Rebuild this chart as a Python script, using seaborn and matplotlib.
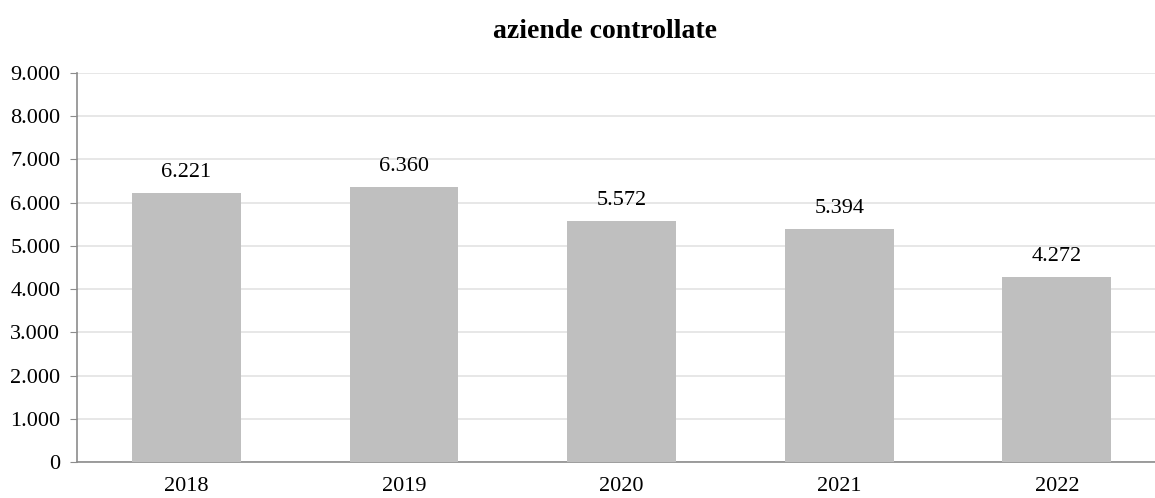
import matplotlib
matplotlib.use("Agg")
import matplotlib.pyplot as plt
import matplotlib.ticker as mticker
import seaborn as sns
import pandas as pd

# dati
anni = ["2018", "2019", "2020", "2021", "2022"]
aziende = [6221, 6360, 5572, 5394, 4272]

df = pd.DataFrame({"anno": anni, "aziende": aziende})

sns.set_style("white")
plt.rcParams["font.family"] = ["Liberation Serif", "DejaVu Serif"]
plt.rcParams["text.color"] = "black"
plt.rcParams["xtick.color"] = "black"
plt.rcParams["ytick.color"] = "black"

fig = plt.figure(figsize=(11.55, 4.98), dpi=100)
ax = fig.add_axes([77 / 1155, 36 / 498, 1078 / 1155, 389 / 498])

sns.barplot(data=df, x="anno", y="aziende", color="#BFBFBF", width=0.5,
            saturation=1, linewidth=0, ax=ax, zorder=3)

ax.set_ylim(0, 9000)
ax.set_xlim(-0.503, 4.451)
ax.yaxis.set_major_locator(mticker.MultipleLocator(1000))
ax.yaxis.set_major_formatter(mticker.FuncFormatter(lambda v, p: f"{int(v):,}".replace(",", ".")))
ax.grid(axis="y", color="#E3E3E3", linewidth=1.2, zorder=0)
ax.set_axisbelow(True)

for s in ["top", "right"]:
    ax.spines[s].set_visible(False)
for s in ["left", "bottom"]:
    ax.spines[s].set_color("#8C8C8C")
    ax.spines[s].set_linewidth(1.2)

ax.tick_params(axis="y", left=True, length=5, color="#8C8C8C", labelsize=16, pad=7)
ax.tick_params(axis="x", bottom=False, labelsize=16, pad=7)
ax.set_xlabel("")
ax.set_ylabel("")

for i, v in enumerate(aziende):
    ax.annotate(f"{v:,}".replace(",", "."), (i, v), xytext=(0, 11.5),
                textcoords="offset points", ha="center", va="baseline", fontsize=16)

fig.text(605 / 1155, 1 - 32 / 498, "aziende controllate", ha="center", va="center",
         fontsize=20, fontweight="bold")

fig.savefig("out.png", dpi=100)
